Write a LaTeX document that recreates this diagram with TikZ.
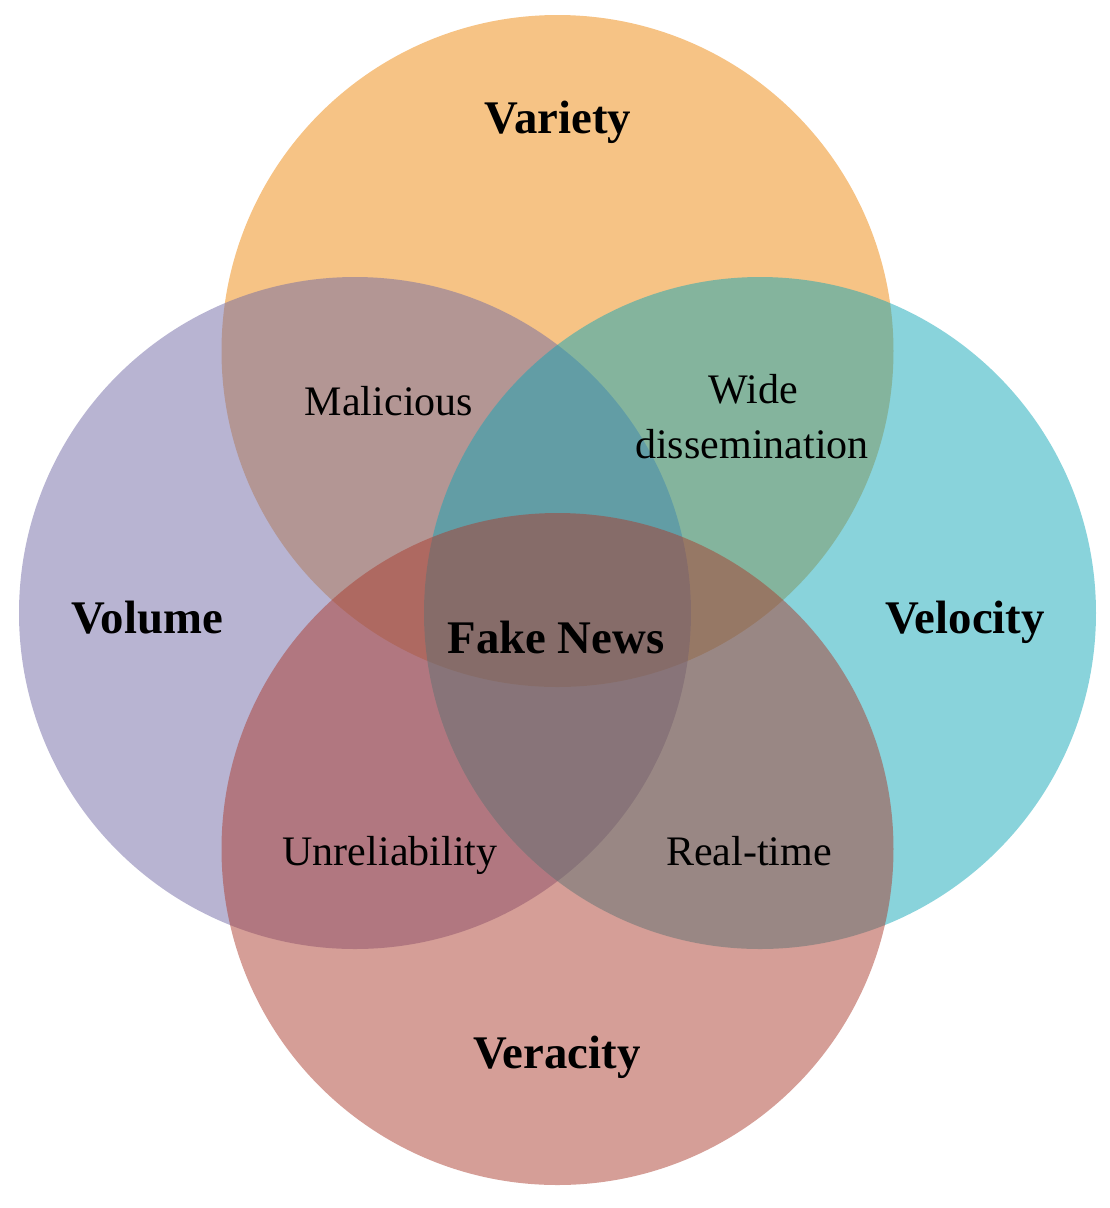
\documentclass[tikz,border=0pt]{standalone}
\usepackage{fontspec}
\setmainfont{Liberation Serif}
\usetikzlibrary{positioning}
\definecolor{varietyColor}{RGB}{237,135,11}
\definecolor{volumeColor}{RGB}{113,105,165}
\definecolor{velocityColor}{RGB}{19,167,183}
\definecolor{veracityColor}{RGB}{171,61,47}
\tikzstyle{venn} = [x = 0.01cm, y = -0.01cm]
\tikzstyle{vennCircleStyle} = [draw=none, fill opacity=0.5]
\tikzstyle{vTitle} = [font=\fontsize{13.3}{16}\selectfont\bfseries, anchor=base, inner sep=0]
\tikzstyle{vTrait} = [font=\fontsize{11.95}{15.65}\selectfont, anchor=base, inner sep=0]
\newcommand{\vennRadius}{336}
\newcommand{\vennCircle}[3]{\fill [vennCircleStyle, fill=#3] (#1, #2) circle (\vennRadius);}

\begin{document}
\begin{tikzpicture}[venn]
            \useasboundingbox (0,0) rectangle (1110,1208);
            \vennCircle{557.5}{351}{varietyColor}
            \vennCircle{355}{613}{volumeColor}
            \vennCircle{760}{613}{velocityColor}
            \vennCircle{557.5}{849}{veracityColor}

            \node [vTitle] (variety) at (558,133) {Variety};
            \node [vTitle] (volume) at (147,633) {Volume};
            \node [vTitle] (velocity) at (965,633) {Velocity};
            \node [vTitle] (veracity) at (557,1068) {Veracity};
            \node [vTitle] (fakeNews) at (556,653) {Fake News};

            \node [vTrait] (malicious) at (389,415) {Malicious};
            \node [vTrait] (wide) at (753,403) {Wide};
            \node [vTrait] (dissemination) at (752,458) {dissemination};
            \node [vTrait] (unreliability) at (390,865) {Unreliability};
            \node [vTrait] (realTime) at (749,865) {Real-time};
          \end{tikzpicture}
\end{document}
